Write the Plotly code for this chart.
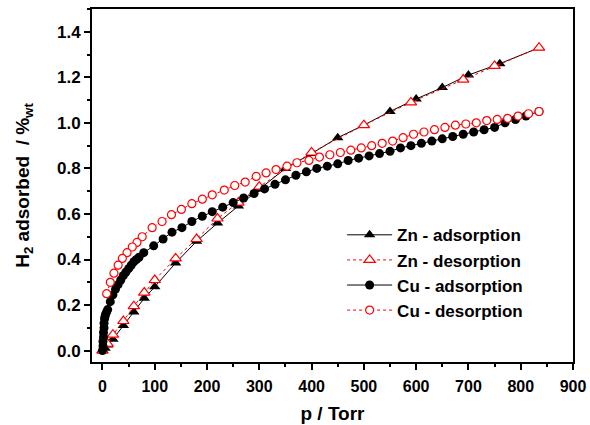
import plotly.graph_objects as go

# Zn sample, adsorption branch
zn_ads_p = [0, 5, 10, 20, 40, 60, 80, 100, 140, 180, 220, 260, 300, 350, 400,
            450, 500, 550, 600, 650, 700, 760, 835]
zn_ads_h2 = [0.0, 0.01, 0.025, 0.05, 0.11, 0.17, 0.23, 0.28, 0.385, 0.48, 0.56,
             0.635, 0.71, 0.80, 0.865, 0.935, 0.99, 1.05, 1.105, 1.155, 1.21, 1.26, 1.33]

# Zn sample, desorption branch
zn_des_p = [835, 750, 690, 590, 500, 400, 300, 260, 220, 180, 140, 100, 80, 60,
            40, 20, 10, 0]
zn_des_h2 = [1.33, 1.25, 1.19, 1.09, 0.99, 0.87, 0.72, 0.65, 0.58, 0.49, 0.405,
             0.31, 0.255, 0.195, 0.13, 0.07, 0.03, 0.0]

# Cu sample, adsorption branch
cu_ads_p = [0, 1, 1, 2, 2, 3, 3, 4, 5, 6, 8, 10, 15, 20, 25, 30, 35, 40, 45, 50,
            55, 60, 65, 70, 79, 98, 116, 133, 152, 171, 191, 210, 230, 250, 270,
            290, 310, 330, 350, 370, 390, 410, 430, 450, 470, 490, 510, 530, 550,
            570, 590, 610, 630, 650, 670, 690, 710, 730, 750, 770, 790, 810, 835]
cu_ads_h2 = [0.0, 0.02, 0.04, 0.06, 0.08, 0.10, 0.12, 0.14, 0.15, 0.16, 0.17, 0.18,
             0.215, 0.245, 0.27, 0.29, 0.31, 0.33, 0.345, 0.36, 0.375, 0.39, 0.40,
             0.41, 0.43, 0.46, 0.49, 0.52, 0.54, 0.567, 0.59, 0.61, 0.63, 0.65,
             0.67, 0.69, 0.71, 0.73, 0.75, 0.77, 0.785, 0.80, 0.81, 0.82, 0.835,
             0.845, 0.855, 0.865, 0.875, 0.89, 0.90, 0.91, 0.92, 0.93, 0.94, 0.95,
             0.96, 0.97, 0.98, 1.0, 1.015, 1.03, 1.05]

# Cu sample, desorption branch
cu_des_p = [835, 815, 795, 775, 755, 735, 715, 695, 675, 655, 635, 615, 595, 575,
            555, 535, 515, 495, 475, 455, 435, 415, 395, 372, 353, 332, 313, 294,
            273, 253, 233, 210, 191, 171, 151, 132, 114, 95, 76, 66, 57, 47, 38,
            30, 22, 15, 8]
cu_des_h2 = [1.05, 1.04, 1.03, 1.02, 1.015, 1.01, 1.0, 0.995, 0.99, 0.98, 0.97,
             0.96, 0.95, 0.935, 0.92, 0.91, 0.90, 0.89, 0.88, 0.87, 0.86, 0.85,
             0.835, 0.825, 0.81, 0.795, 0.78, 0.765, 0.74, 0.725, 0.705, 0.684,
             0.665, 0.645, 0.62, 0.597, 0.567, 0.54, 0.50, 0.475, 0.455, 0.43,
             0.405, 0.375, 0.34, 0.30, 0.25]

font_family = "Liberation Sans, Arial, sans-serif"

fig = go.Figure()

fig.add_trace(go.Scatter(
    x=zn_ads_p, y=zn_ads_h2, mode="lines+markers", name="Zn - adsorption",
    line=dict(color="black", width=1),
    marker=dict(symbol="triangle-up", size=10, color="black"),
))
fig.add_trace(go.Scatter(
    x=zn_des_p, y=zn_des_h2, mode="lines+markers", name="Zn - desorption",
    line=dict(color="red", width=1, dash="dot"),
    marker=dict(symbol="triangle-up", size=10, color="white",
                line=dict(color="red", width=1.2)),
))
fig.add_trace(go.Scatter(
    x=cu_ads_p, y=cu_ads_h2, mode="lines+markers", name="Cu - adsorption",
    line=dict(color="black", width=1),
    marker=dict(symbol="circle", size=9, color="black"),
))
fig.add_trace(go.Scatter(
    x=cu_des_p, y=cu_des_h2, mode="lines+markers", name="Cu - desorption",
    line=dict(color="red", width=1, dash="dot"),
    marker=dict(symbol="circle", size=8, color="white",
                line=dict(color="red", width=1.2)),
))

fig.update_layout(
    width=590, height=425,
    margin=dict(l=92, r=17, t=9, b=63),
    plot_bgcolor="white", paper_bgcolor="white",
    font=dict(family=font_family, size=16, color="black"),
    showlegend=True,
    legend=dict(x=0.52, y=0.41, xanchor="left", yanchor="top",
                bgcolor="rgba(0,0,0,0)", itemwidth=45,
                font=dict(size=17, weight="bold"), tracegroupgap=0),
)

fig.update_xaxes(
    range=[-20, 900], dtick=100, tick0=0, automargin=False,
    showline=True, linecolor="black", linewidth=2, mirror=True,
    ticks="outside", ticklen=6, tickwidth=1.5, tickcolor="black",
    minor=dict(ticks="outside", dtick=50, ticklen=3, tickwidth=1.5, tickcolor="black"),
    showgrid=False, zeroline=False,
    tickfont=dict(size=16, weight="bold"), ticklabelstandoff=3,
    title=dict(text="<b>p / Torr</b>", font=dict(size=19), standoff=12),
)
fig.update_yaxes(
    range=[-0.05, 1.5], dtick=0.2, tick0=0, tickformat=".1f", automargin=False,
    showline=True, linecolor="black", linewidth=2, mirror=True,
    ticks="outside", ticklen=6, tickwidth=1.5, tickcolor="black",
    minor=dict(ticks="outside", dtick=0.1, ticklen=3, tickwidth=1.5, tickcolor="black"),
    showgrid=False, zeroline=False,
    tickfont=dict(size=17, weight="bold"),
    title=dict(text="<b>H<sub>2</sub> adsorbed  / %<sub>wt</sub></b>",
               font=dict(size=19), standoff=22),
)

# no body margin and no scrollbars, so the figure fills the window exactly
fig.write_html(
    "out.html", config={"displayModeBar": False},
    post_script="document.body.style.margin='0';"
                "document.documentElement.style.overflow='hidden';",
)
